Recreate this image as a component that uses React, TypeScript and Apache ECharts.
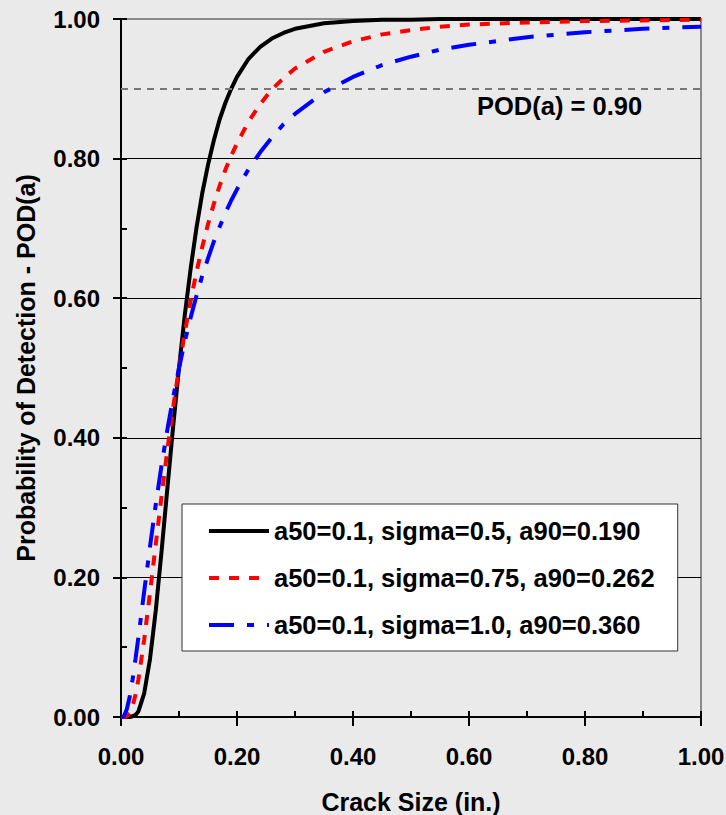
import React, { useEffect, useRef } from "react";
import * as echarts from "echarts";

const crackSize = [0, 0.005, 0.01, 0.015, 0.02, 0.025, 0.03, 0.04, 0.05, 0.06, 0.07, 0.08, 0.09, 0.10, 0.11, 0.12, 0.13, 0.14, 0.15, 0.16, 0.17, 0.18, 0.19, 0.20, 0.22, 0.24, 0.26, 0.28, 0.30, 0.35, 0.40, 0.45, 0.50, 0.55, 0.60, 0.70, 0.80, 0.90, 1.00];
const podSigma050 = [0, 0, 0, 0, 0.001, 0.003, 0.008, 0.034, 0.083, 0.153, 0.238, 0.328, 0.417, 0.500, 0.576, 0.642, 0.700, 0.750, 0.791, 0.826, 0.856, 0.880, 0.900, 0.917, 0.943, 0.960, 0.972, 0.980, 0.986, 0.994, 0.997, 0.999, 0.999, 1.000, 1.000, 1.000, 1.000, 1.000, 1.000];
const podSigma075 = [0, 0, 0.001, 0.006, 0.016, 0.032, 0.054, 0.111, 0.178, 0.248, 0.317, 0.383, 0.444, 0.500, 0.551, 0.596, 0.637, 0.673, 0.706, 0.735, 0.761, 0.784, 0.804, 0.822, 0.853, 0.878, 0.899, 0.915, 0.929, 0.953, 0.968, 0.978, 0.984, 0.989, 0.992, 0.995, 0.997, 0.998, 0.999];
const podSigma100 = [0, 0.001, 0.011, 0.029, 0.054, 0.083, 0.114, 0.180, 0.244, 0.305, 0.361, 0.412, 0.458, 0.500, 0.538, 0.572, 0.603, 0.632, 0.657, 0.681, 0.702, 0.722, 0.740, 0.756, 0.785, 0.809, 0.830, 0.849, 0.864, 0.895, 0.917, 0.934, 0.946, 0.956, 0.963, 0.974, 0.981, 0.986, 0.989];
const seriesNames = [
  "a50=0.1, sigma=0.5, a90=0.190",
  "a50=0.1, sigma=0.75, a90=0.262",
  "a50=0.1, sigma=1.0, a90=0.360",
];
const podThreshold = 0.9;
const podLabel = "POD(a) = 0.90";
const xTitle = "Crack Size (in.)";
const yTitle = "Probability of Detection - POD(a)";

const FONT = "'Liberation Sans', Arial, Helvetica, sans-serif";

function pairs(ys: number[]) {
  return crackSize.map((x, i) => [x, ys[i]]);
}

export default function App() {
  const ref = useRef<HTMLDivElement>(null);
  useEffect(() => {
    if (!ref.current) return;
    const chart = echarts.init(ref.current, null, { renderer: "svg" });
    const option: any = {
      animation: false,
      backgroundColor: "#EAEAEA",
      grid: {
        left: 121,
        right: 25,
        top: 19,
        bottom: 98,
        containLabel: false,
        outerBoundsMode: "none",
        show: true,
        borderColor: "#8a8a8a",
        borderWidth: 2,
        backgroundColor: "transparent",
      },
      legend: {
        orient: "vertical",
        left: 182,
        top: 504,
        backgroundColor: "#FFFFFF",
        borderColor: "#333333",
        borderWidth: 1,
        borderRadius: 0,
        padding: [13, 23, 12, 25],
        itemWidth: 60,
        itemHeight: 14,
        itemGap: 19,
        selectedMode: false,
        itemStyle: { opacity: 0, borderWidth: 0 },
        lineStyle: { width: 4 },
        textStyle: {
          fontFamily: FONT,
          fontWeight: "bold",
          fontSize: 25.5,
          color: "#000",
          lineHeight: 28,
        },
        data: seriesNames,
      },
      xAxis: [
        {
          type: "value",
          min: 0,
          max: 1,
          interval: 0.2,
          position: "bottom",
          name: xTitle,
          nameLocation: "middle",
          nameGap: 72,
          nameTextStyle: { fontFamily: FONT, fontWeight: "bold", fontSize: 25, color: "#000" },
          axisLine: { show: true, onZero: false, lineStyle: { color: "#000", width: 2 } },
          axisTick: { show: true, inside: false, length: 9, lineStyle: { color: "#000", width: 2 } },
          axisLabel: {
            margin: 27,
            fontFamily: FONT,
            fontWeight: "bold",
            fontSize: 24,
            color: "#000",
            formatter: (v: number) => v.toFixed(2),
          },
          splitLine: { show: false },
        },
        {
          type: "value",
          min: 0,
          max: 1,
          interval: 0.1,
          position: "bottom",
          axisLine: { show: false },
          axisTick: { show: true, inside: true, length: 6, lineStyle: { color: "#000", width: 2 } },
          axisLabel: { show: false },
          splitLine: { show: false },
        },
      ],
      yAxis: [
        {
          type: "value",
          min: 0,
          max: 1,
          interval: 0.2,
          position: "left",
          name: yTitle,
          nameLocation: "middle",
          nameGap: 83,
          nameTextStyle: { fontFamily: FONT, fontWeight: "bold", fontSize: 25, color: "#000" },
          axisLine: { show: true, onZero: false, lineStyle: { color: "#000", width: 2 } },
          axisTick: { show: true, inside: false, length: 8, lineStyle: { color: "#000", width: 2 } },
          axisLabel: {
            margin: 21,
            fontFamily: FONT,
            fontWeight: "bold",
            fontSize: 24,
            color: "#000",
            formatter: (v: number) => v.toFixed(2),
          },
          splitLine: { show: true, showMaxLine: false, lineStyle: { color: "#000", width: 1 } },
        },
        {
          type: "value",
          min: 0,
          max: 1,
          interval: 0.1,
          position: "left",
          axisLine: { show: false },
          axisTick: { show: true, inside: true, length: 6, lineStyle: { color: "#000", width: 2 } },
          axisLabel: { show: false },
          splitLine: { show: false },
        },
      ],
      series: [
        {
          name: seriesNames[0],
          type: "line",
          xAxisIndex: 0,
          yAxisIndex: 0,
          data: pairs(podSigma050),
          symbol: "none",
          smooth: false,
          lineStyle: { color: "#000000", width: 4, type: "solid" },
          itemStyle: { color: "#000000" },
          markLine: {
            silent: true,
            symbol: ["none", "none"],
            label: { show: false },
            lineStyle: { color: "#777777", width: 2, type: [7, 6] },
            data: [{ yAxis: podThreshold }],
          },
          z: 3,
        },
        {
          name: seriesNames[1],
          type: "line",
          xAxisIndex: 0,
          yAxisIndex: 0,
          data: pairs(podSigma075),
          symbol: "none",
          smooth: false,
          lineStyle: { color: "#FF0000", width: 4, type: [10, 10] },
          itemStyle: { color: "#FF0000" },
          z: 4,
        },
        {
          name: seriesNames[2],
          type: "line",
          xAxisIndex: 0,
          yAxisIndex: 0,
          data: pairs(podSigma100),
          symbol: "none",
          smooth: false,
          lineStyle: { color: "#0000FF", width: 4, type: [25, 13, 7, 13] },
          itemStyle: { color: "#0000FF" },
          z: 5,
        },
      ],
      graphic: [
        {
          type: "text",
          left: 477,
          top: 93,
          z: 10,
          style: {
            text: podLabel,
            fontFamily: FONT,
            fontWeight: "bold",
            fontSize: 25.5,
            fill: "#000",
          },
        },
      ],
    };
    chart.setOption(option);
    return () => chart.dispose();
  }, []);
  return (
    <div
      ref={ref}
      style={{ position: "fixed", left: 0, top: 0, width: 726, height: 815, background: "#EAEAEA" }}
    />
  );
}
